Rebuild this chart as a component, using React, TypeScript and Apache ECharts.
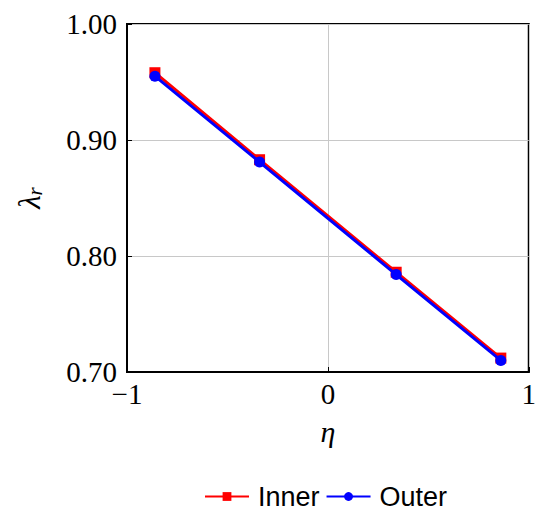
import React, { useEffect, useRef } from "react";
import * as echarts from "echarts";

const etaValues = [-0.861, -0.34, 0.34, 0.861];
const innerValues = [0.958, 0.883, 0.786, 0.712];
const outerValues = [0.955, 0.881, 0.784, 0.71];
const seriesNames = ["Inner", "Outer"];

export default function App() {
  const ref = useRef<HTMLDivElement>(null);
  useEffect(() => {
    if (!ref.current) return;
    const chart = echarts.init(ref.current, null, { renderer: "svg" });
    const serif = "Liberation Serif";
    chart.setOption({
      animation: false,
      backgroundColor: "#fff",
      grid: {
        left: 127,
        right: 9,
        top: 24,
        bottom: 138,
        show: true,
        borderColor: "#000",
        borderWidth: 2,
        backgroundColor: "transparent",
      },
      legend: {
        top: 478,
        left: 199,
        itemWidth: 44,
        itemHeight: 11,
        itemGap: 6,
        textStyle: { fontFamily: "Liberation Sans", fontSize: 27, color: "#000", padding: [0, 0, 0, 4] },
        data: seriesNames,
      },
      xAxis: {
        type: "value",
        min: -1,
        max: 1,
        interval: 1,
        name: "η",
        nameLocation: "middle",
        nameGap: 44,
        nameTextStyle: { fontFamily: serif, fontStyle: "italic", fontSize: 30, color: "#000" },
        axisLine: { show: true, onZero: false, lineStyle: { color: "#000", width: 2 } },
        axisTick: { show: true, inside: true, length: 5, lineStyle: { color: "#000" } },
        splitLine: { show: true, lineStyle: { color: "#c8c8c8", width: 1 } },
        axisLabel: {
          fontFamily: serif,
          fontSize: 29,
          color: "#000",
          margin: 7,
          formatter: (v: number) => (v < 0 ? "\u2212" + Math.abs(v) : String(v)),
        },
      },
      yAxis: {
        type: "value",
        min: 0.7,
        max: 1.0,
        interval: 0.1,
        name: "{a|λ}{b|r}",
        nameLocation: "middle",
        nameRotate: 90,
        nameGap: 82,
        nameTextStyle: {
          rich: {
            a: { fontFamily: serif, fontStyle: "italic", fontSize: 31, color: "#000", verticalAlign: "bottom", lineHeight: 32 },
            b: { fontFamily: serif, fontStyle: "italic", fontSize: 21, color: "#000", verticalAlign: "bottom", lineHeight: 24 },
          },
        },
        axisLine: { show: true, onZero: false, lineStyle: { color: "#000", width: 2 } },
        axisTick: { show: true, inside: true, length: 5, lineStyle: { color: "#000" } },
        splitLine: { show: true, lineStyle: { color: "#c8c8c8", width: 1 } },
        axisLabel: {
          fontFamily: serif,
          fontSize: 29,
          color: "#000",
          margin: 10,
          formatter: (v: number) => v.toFixed(2),
        },
      },
      series: [
        {
          name: seriesNames[0],
          type: "line",
          data: etaValues.map((x, i) => [x, innerValues[i]]),
          symbol: "rect",
          symbolSize: 11,
          itemStyle: { color: "#ff0000" },
          lineStyle: { color: "#ff0000", width: 3 },
          z: 2,
        },
        {
          name: seriesNames[1],
          type: "line",
          data: etaValues.map((x, i) => [x, outerValues[i]]),
          symbol: "circle",
          symbolSize: 11,
          itemStyle: { color: "#0000ff" },
          lineStyle: { color: "#0000ff", width: 3 },
          z: 3,
        },
      ],
    });
    return () => chart.dispose();
  }, []);
  return <div ref={ref} style={{ width: 539, height: 510, position: "absolute", left: 0, top: 0 }} />;
}
